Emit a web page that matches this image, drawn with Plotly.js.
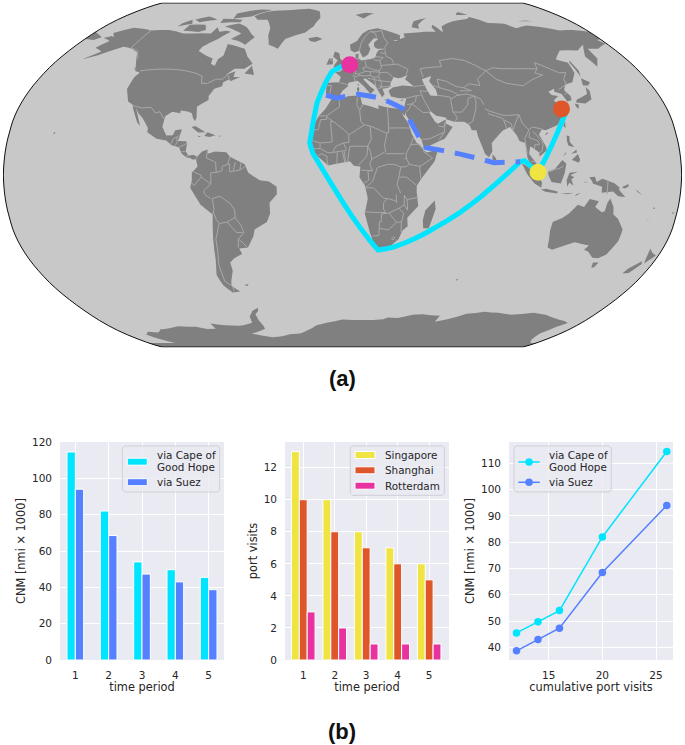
<!DOCTYPE html>
<html><head><meta charset="utf-8">
<script src="https://cdn.plot.ly/plotly-3.0.1.min.js"></script>
<style>html,body{margin:0;padding:0;background:#fff}</style></head>
<body><div id="chart" style="width:685px;height:745px"></div>
<script>
const periods = [1, 2, 3, 4, 5];
const capeCNM = [114.5, 82, 54, 49.7, 45.5];
const suezCNM = [94, 68.5, 47.3, 43, 38.7];
const singaporeVisits = [13, 10, 8, 7, 6];
const shanghaiVisits = [10, 8, 7, 6, 5];
const rotterdamVisits = [3, 2, 1, 1, 1];
const cumulativeVisits = [26, 20, 16, 14, 12];
const capeRouteLon = [4.5, -1, -6.4, -9.2, -14.3, -17.6, -15.9, 20.1, 28.6, 40.3, 51.4, 62.7, 73.8, 82.8, 94.5, 96.8, 103.8, 108.6, 116, 123, 121.5];
const capeRouteLat = [52, 51, 48.6, 44.6, 33.8, 15, 10.3, -35.2, -33.8, -29.7, -24.2, -17.9, -10.2, -3.1, 6.2, 6.7, 1.3, 8.6, 19.7, 29, 31];
const suezRouteLon = [-9.4, -3.3, 9.1, 21.4, 33.2, 41.5, 44.7, 80.5, 89.8, 94.5];
const suezRouteLat = [37.5, 36, 37.8, 36, 31.3, 17.2, 12.8, 5.8, 6, 6.2];
const portNames = ['Rotterdam', 'Shanghai', 'Singapore'];
const portLon = [4.5, 121.5, 103.8];
const portLat = [52, 31, 1.3];
const capeLabel = 'via Cape of<br>Good Hope', suezLabel = 'via Suez';

// Hand-estimated world outlines [lon, lat]
const northAmerica = [[-168,65.6],[-164,66.6],[-161.7,66.1],[-166,68.3],[-156.6,71.3],[-141,69.7],[-128,70],[-115,68],[-108,68],[-95,68],[-94,71.5],[-90,69],[-85,69.5],[-81.5,69],[-87,65],[-94,61],[-94.5,58.8],[-88,56.5],[-82.5,55],[-82,52.5],[-79,51.5],[-79,54.7],[-76.6,56.5],[-78,62.4],[-70,61],[-65,60],[-61,56],[-56,52.5],[-60,50],[-66,50],[-70,47],[-65,48.8],[-65,46],[-61,46],[-66,44],[-67,45],[-70,43.5],[-70,41.7],[-74,40.5],[-76,37],[-75.5,35.2],[-78,33.9],[-81,32],[-80,26.8],[-80.5,25.2],[-82,26.9],[-83,29],[-85.5,29.8],[-89.5,30.2],[-89.4,29],[-94,29.6],[-97.3,27.5],[-97.8,22.5],[-95,18.5],[-91.5,18.6],[-90.5,21],[-87,21.5],[-88,17],[-88.5,15.9],[-84,15.8],[-83.3,14.9],[-83.7,11],[-82,9],[-79.5,9.5],[-77.4,8.6],[-78,7.4],[-80,7.3],[-81,8],[-83,8.2],[-85.7,10],[-87.5,13],[-91.5,14],[-94.7,16.2],[-100,17],[-105.5,20],[-105.5,22],[-109.3,26.5],[-112.5,29],[-114.7,31.5],[-112,27],[-110,23],[-112,24.7],[-116,30.8],[-117.3,33],[-120.5,34.5],[-122.5,37.7],[-124.3,40.3],[-124,46],[-122.5,48],[-127,50.5],[-130.5,54.5],[-134,58],[-140,60],[-147,61],[-152,59],[-158,56.5],[-165,54.5],[-158,58.5],[-165,60.5],[-161,64]];
const greenland = [[-73,78.2],[-66,81],[-60,82],[-45,82.5],[-30,83.6],[-20,81.5],[-18,77],[-22,72],[-27,68.5],[-40,65],[-43,60],[-50,62],[-53,67],[-54,71],[-60,76],[-68,76]];
const southAmerica = [[-77.4,8.6],[-75,11],[-72,12],[-72,10],[-68,11],[-62,10.7],[-60,8.5],[-52,5],[-50,1],[-44,-2.5],[-39,-3],[-35,-5.5],[-35,-9],[-39,-13],[-39,-18],[-41,-22],[-48,-25.5],[-49,-28.6],[-53,-34],[-58,-34.5],[-57,-37],[-62,-39],[-65,-41],[-65,-45],[-68,-50],[-69,-52.3],[-65,-55],[-70,-55.5],[-74,-52],[-75.5,-47],[-73,-40],[-71.5,-30],[-70,-18.5],[-76,-14],[-81,-6],[-80,-2.5],[-80,1],[-77,4],[-78,7.4]];
const africa = [[-17,14.7],[-17,21],[-13,27.7],[-9.5,31],[-6,35.8],[-2,35],[3,36.9],[10,37.3],[11,33.2],[15,32.3],[20,30.9],[20,32.7],[25,31.6],[32,31],[34.3,31.3],[34.9,29.5],[34.2,27.8],[33,29],[32.5,30],[33.5,27.5],[36,24],[37.3,19.5],[39.5,15.5],[43.2,12],[43.3,11.5],[45,10.5],[51,11.9],[49,6.5],[42,-1.5],[39.5,-5],[39.5,-8],[40.6,-14.5],[35,-20],[35.5,-24],[32.8,-26],[31,-30],[26,-34],[20,-34.8],[18.4,-34],[15,-27],[12,-18],[13.5,-11],[12,-5],[9,-1],[9.5,4],[6,4.3],[4,6.4],[-4,5.1],[-7.5,4.4],[-13,8.5],[-16.7,12.3]];
const eurasia = [[-9,37],[-9.5,39],[-9,43.2],[-2,43.5],[-1,46],[-4.5,48.4],[-1.5,48.7],[2,51],[4,52],[7,53.6],[8.5,54],[8.3,57],[10.5,57.6],[10,55],[12,54],[18,54.8],[21,55.5],[22,57.5],[24,59.3],[29.5,60],[23,60],[21.3,61],[21.5,63],[25.2,65.2],[22,65.5],[17.5,62],[18.5,59.8],[16.5,57],[14.5,56],[13,55.5],[11,59],[8,58],[5.5,59],[5,62],[10,64],[14.5,68],[19,70],[26,71],[31,70],[41,67],[40,64.6],[35,64.5],[37,64],[44,66],[44,68],[54,68.5],[60,69],[68,69],[67,71.5],[69,73],[73,68.5],[75,72],[80,73.5],[87,75],[100,76.4],[104,77.7],[113,74],[125,73.5],[130,71],[140,72.5],[150,71.5],[160,69.7],[170,70],[180,69],[180,65],[177,64.5],[179,62.5],[170,60],[163,60],[162,55],[157,51],[155.5,56],[163,62],[155,59],[143,59],[135,54.5],[141,53],[140,48],[135,43.5],[130,42.5],[127.5,39.8],[129.5,37],[129,35],[126.3,34.5],[125,38],[121.5,39],[122,40.5],[118,39],[119,37.5],[122.5,37],[119,35],[122,31],[121,28],[117,23.5],[113,22],[110,21],[108,21.5],[106,19],[109,13],[109,11.5],[105,8.7],[105,10.5],[102,12.5],[100.5,13.5],[99.5,10],[103,5.5],[104,1.5],[101,3],[98.5,8],[98,15],[95,16],[94,18.5],[91,22.5],[87,21],[85,19.5],[80,15],[80,11],[78,8.3],[76,10],[73,18],[72.5,21],[70,21],[69,23.5],[66.5,25],[61,25],[57,26],[56.5,27],[51.5,27.8],[48.5,30],[48,29],[50.5,25],[52,24],[56.3,26],[56.5,24],[59.8,22.5],[55,17],[52,16],[45,13],[43.5,12.7],[42.5,16.5],[39,21],[35,28],[34.9,29.5],[34.2,31.3],[36,36],[32,36],[27.5,36.8],[26.5,39.5],[29,41],[35,42],[41.5,41.5],[37,45],[39,47],[35,45.7],[33,45.5],[30.5,46],[28,43],[28,41.5],[26,40.8],[23,40.5],[24,38],[22.5,36.5],[19.5,41],[19,42],[13.5,45.5],[12.3,45],[16,41.5],[18.5,40],[16,38],[12,42],[8.8,44.3],[3.5,43.3],[3,41.5],[0,39.5],[-2,36.7],[-5.5,36]];
const australia = [[114,-22],[113.5,-26],[115,-34],[118,-35],[124,-33],[129,-31.5],[134,-32.5],[137.7,-33],[136,-35],[139,-36],[143,-38.8],[146.5,-39],[150,-37.3],[153,-31],[153,-25.5],[149,-20.5],[146,-18.5],[145.3,-15],[143,-11],[141.7,-13],[141,-17],[139.5,-17.5],[135.5,-15],[137,-12.3],[132,-11.3],[129.5,-15],[126,-14],[122,-18],[119,-20]];
const islands = [
  [[-80,73.7],[-72,71.5],[-66,68],[-62,66],[-66,62],[-72,64],[-78,65],[-73,68],[-80,70],[-89,72]],
  [[-105,73],[-117,73],[-117,69.5],[-105,68.8],[-101,70]],
  [[-90,80],[-72,83],[-62,82.5],[-75,78],[-88,76.5]],
  [[-125,72],[-116,73.5],[-120,76],[-124,74]],
  [[-96,76.5],[-80,76],[-80,74.5],[-95,74]],
  [[-110,78],[-100,76],[-112,74.5],[-118,76]],
  [[-59,47.7],[-53,47],[-56,51.5]],
  [[-85,21.8],[-80,23],[-74,20],[-78,19.9],[-82,22.5]],
  [[-74.5,18.3],[-73,20],[-68.5,18.6],[-71.5,17.8]],
  [[-78.3,18.4],[-76.3,18.2],[-77,17.7]],
  [[-67.2,18.4],[-65.6,18.4],[-66,17.9]],
  [[-128,50.7],[-124,49],[-123.5,48.4],[-125.5,48.8]],
  [[-156,19],[-155,19.7],[-155.9,20.2]],
  [[-61,-51.8],[-58,-51.3],[-59,-52.3]],
  [[49.3,-12],[50,-16],[47,-25],[44,-25],[43.5,-21],[44.5,-16.5]],
  [[-5.5,50],[1.3,51.2],[1.5,52.8],[-1.5,55],[-2,57.7],[-5,58.6],[-6,56],[-3,54],[-5,52]],
  [[-10,52],[-6,52.2],[-6,55],[-8.5,55]],
  [[-24,65.5],[-18,66.3],[-14,65],[-19,63.5],[-22.5,64]],
  [[11,79],[20,80.5],[27,80],[17,76.7]],
  [[52,71.5],[56,75],[68,77],[58,73],[57,70.7]],
  [[12.5,38],[15.5,38.2],[15,36.7]],[[8.3,41],[9.7,41],[9.5,39.2],[8.5,39]],[[8.7,42.5],[9.5,43],[9.3,41.5]],
  [[23.5,35.5],[26.3,35.2],[24,35]],[[32.4,35],[34.5,35.6],[33.5,34.7]],
  [[131,34],[136,33.5],[140.5,35.5],[142,39.5],[141,41.3],[139.5,38],[136,36.7],[132,35.3]],
  [[140,42],[141.5,45.4],[145.3,43.5],[143,42]],[[130,33.5],[132,33],[131,31],[130,32]],
  [[142,46],[143.5,49],[143,54],[142,53]],[[120,23],[121.5,25.2],[121,22]],[[109,18.5],[110.5,20],[111,19.5]],
  [[80,9.7],[82,7.5],[80.5,6],[79.8,8]],
  [[95.3,5.5],[98,4.2],[104,-1],[106,-3.5],[105.7,-6],[102,-4],[98,0.5]],
  [[105.5,-6.8],[108.5,-6.5],[114.5,-7.7],[114.5,-8.7],[108,-7.8]],
  [[109,1.5],[111,1.7],[113,3],[117,7],[119,5.3],[118,1],[116,-4],[111,-3.3],[109.5,-0.5]],
  [[119.5,-5.5],[119,-2.5],[120.5,1],[125,1.5],[121,0],[123,-1],[121.5,-2],[122.7,-5],[120.5,-3.5]],
  [[120.5,16],[120.8,18.5],[122.2,18.3],[122,15.5],[124,13],[121,13.7]],
  [[122,7],[125.5,9.8],[126.5,7],[125.5,5.8],[124,6.5]],[[122,10],[125,12],[125,10.5]],[[117.3,8.5],[119.5,11],[119,9.8]],
  [[131,-1],[134,-0.8],[135,-3.3],[138,-1.7],[144.5,-3.9],[147.5,-6],[147,-6.8],[150.8,-10.3],[147,-10],[144,-7.7],[138,-8.3],[138,-5.5],[133,-4],[132.5,-2.8]],
  [[124,-10],[127,-8.4],[124.5,-9]],[[116,-8.8],[123,-8.3],[120,-9]],[[127.5,1.5],[128.5,-0.5],[128,0.5]],[[128,-3.2],[130.5,-3.3],[129,-3.5]],
  [[145,-41],[148.3,-41],[147.5,-43.3],[146,-43.5]],
  [[173,-34.5],[175.5,-36.5],[178.5,-37.7],[175,-41.5],[174,-39]],[[172.8,-40.5],[174,-41.8],[170.5,-46],[167,-46.3],[168,-44]],
  [[164,-20.2],[167,-22.3],[165,-21]],[[156,-6.7],[160,-9.5],[161,-10],[157,-8]],[[148.5,-5.7],[152,-4.2],[152,-5.5],[150,-6.3]],
  [[167,-15],[167.8,-16],[166.7,-15.8]],[[177.3,-17.5],[178.7,-17.7],[178,-18.3]],
  [[69,-49],[70.5,-49],[69.5,-49.8]],[[95,79],[105,79],[100,81]],[[138,75],[145,75.5],[150,75]],
  [[-180,65],[-173,64.5],[-170,66],[-175,67.5],[-180,68.9]]
];
const antarctica = [[-155,-85],[-163.7,-78.6],[-158,-76.9],[-151,-77.4],[-147.6,-76.6],[-145,-75.5],[-136,-74.7],[-127,-73.5],[-120,-73.8],[-114,-73.9],[-107,-75.2],[-100,-75],[-100,-72],[-90,-73],[-80,-73.2],[-76,-73],[-68,-71.5],[-67,-68],[-63,-65],[-58,-63.3],[-59,-65],[-62,-66.8],[-62,-70],[-61,-73],[-61,-75],[-75,-78],[-60,-80.5],[-53,-80],[-44,-78.5],[-35,-78],[-28,-76],[-20,-73],[-12,-71.5],[0,-69.7],[15,-69.9],[30,-69.6],[33,-68.5],[40,-68.9],[50,-67],[57,-66.8],[70,-67.6],[69,-71],[77,-69.5],[88,-66.5],[100,-65.5],[110,-66],[120,-67],[135,-66],[145,-67],[155,-69],[165,-70.5],[170,-71.7],[166,-74],[163,-78],[175,-85]];
const caspian = [[47,45],[53,46.5],[51,44],[53.8,40],[54,37],[50,37.3],[49,39],[47.5,43]];

const bordersAmericas = [
  [[-141,69.7],[-141,60.3],[-135,59],[-130,55]],[[-123,49],[-95,49],[-89,48],[-84,46.5],[-82.5,43],[-79,43],[-75,45],[-71,45],[-69,47.3],[-67,45]],
  [[-117,32.5],[-111,31.4],[-106.5,31.8],[-103,29],[-101,29.7],[-97.3,26]],[[-92,14.6],[-91,17],[-89,17.9],[-88.2,18.5]],[[-89,17.9],[-89,15.9]],[[-88.5,15.9],[-89.4,14.2],[-90,13.7]],
  [[-87.5,13],[-85,14],[-83.3,15]],[[-85.7,11],[-83.7,10.9]],[[-83,8.2],[-82.7,9.5]],[[-77.4,8.6],[-77.9,7.3]],
  [[-72,11.8],[-72.5,8],[-67.5,6],[-67,1.2]],[[-67,1.2],[-70,1],[-69.9,-4.2]],[[-78.8,1.4],[-75.3,0],[-75,-0.9],[-70,-4.2]],[[-80.3,-3.4],[-79,-5],[-75,-0.9]],
  [[-70,-4.2],[-74,-7.5],[-73,-9.5],[-70.5,-11]],[[-69.5,-11],[-69,-16],[-69.5,-17.5]],[[-70.4,-18.4],[-69.5,-17.5]],[[-69.5,-11],[-65.3,-10],[-60,-13.5],[-58,-16.3],[-58,-20]],
  [[-58,-20],[-62.5,-22]],[[-62.5,-22],[-67,-22.8]],[[-69.5,-17.5],[-68.3,-21],[-67,-22.8]],[[-67,-22.8],[-70,-30],[-70.5,-36],[-72,-42],[-72,-50],[-68.5,-52.3]],[[-68.6,-52.7],[-68.6,-55]],
  [[-62.5,-22],[-58,-27],[-54.6,-27]],[[-58,-20],[-55,-24],[-54.6,-25.5]],[[-54.6,-25.5],[-54,-27],[-57.6,-30]],[[-57.6,-30],[-53.4,-33.7]],[[-57.6,-30],[-58.4,-34]],
  [[-60,8.5],[-61,5],[-60,5.2]],[[-60,5.2],[-59.9,1.5]],[[-67,1.2],[-64,2],[-64,4],[-60.7,5.2]],[[-57,6],[-58,2]],[[-54,5.7],[-54.5,2.3]],[[-59.8,1.5],[-54.5,2.3],[-51.7,4]]
];
const bordersAfrica = [
  [[-2,35],[-1.5,32],[-8.7,27.7]],[[-13,27.7],[-8.7,27.7]],[[-8.7,27.7],[-8.7,26],[-12,26],[-13,21.3],[-17,21]],[[-8.7,27.2],[-4.9,25],[-6.5,25],[-5.5,15.5],[-12,15],[-16.5,16.2]],
  [[-4.9,25],[1.1,21],[3.3,19],[4.2,19.2]],[[4.2,19.2],[12,23.5]],[[8.5,37],[8,33],[9.5,30.2]],[[9.5,30.2],[10,25],[12,23.5]],[[11.5,33.1],[9.5,30.2]],[[12,23.5],[15,23],[24,19.5]],
  [[25,31.6],[25,20]],[[24,19.5],[24,20],[25,20]],[[25,22],[37,22]],[[3.3,19],[3.5,15.3],[0.5,15]],[[0.5,15],[2,12]],[[3.5,11.5],[4,13.5],[13.5,13.5]],[[15,23],[15.5,16.8],[13.5,13.5]],
  [[24,19.5],[22.5,14],[23,11]],[[13.5,13.5],[15,11],[15.5,7.5]],[[15.5,7.5],[19,9],[23,11]],[[13.5,13.5],[13,9],[8.5,4.6]],[[2.7,6.4],[3.6,11.7]],[[1.6,6.2],[1,11]],[[1.2,6],[0,11]],[[-3,5],[-2.8,11]],
  [[-5,10.5],[-2.8,11],[2,11.5]],[[-5.5,10.4],[-3.5,13.5],[0.5,15]],[[-12,12.4],[-8,10.5],[-5.5,10.4]],[[-12,15],[-12,12.4],[-16.7,12.3]],[[-13.3,9],[-11,10],[-8,8.5],[-8.4,7.5],[-7.5,4.4]],
  [[38.5,18],[36.5,14.3],[34,10],[34,8],[33,7.5]],[[36.5,14.3],[41,14.5],[43,12.5]],[[23,10],[33,10]],[[27.5,5],[31,3.7],[34,4],[35.5,5]],[[34,8],[35.5,5]],[[35.5,5],[41.5,4]],
  [[41.5,-1.7],[41,3.9],[48,8],[43,11]],[[39.2,-4.7],[34,-1]],[[30,-1],[34,-1]],[[31,3.7],[29.8,-1.3]],[[29.8,-1.3],[29,-4.5]],[[29,-4.5],[31,-8.5]],[[34.5,-11.5],[40.5,-10.5]],
  [[15.5,7.5],[14.5,5],[16,2]],[[16,2],[13.5,2],[14,-2.5],[11,-4]],[[9.8,2.3],[16,2]],[[18.5,3.5],[24,5],[27.5,5]],[[18.5,3.5],[16,-3],[12.2,-6]],[[12.3,-6],[16.5,-6],[22,-11],[24,-11]],
  [[24,-11],[28,-12],[29,-13],[28.5,-9]],[[24,-11],[22,-13],[22,-16],[23.3,-17.6]],[[11.8,-17.3],[23.3,-17.6]],[[25,-17.8],[21,-18.3],[21,-22],[20,-22],[20,-28.4]],[[20,-28.4],[16.5,-28.6]],
  [[20,-25],[25,-25.7],[29.3,-22.2]],[[25,-17.8],[29.3,-22.2],[32,-22],[33,-18],[30.3,-15.6],[25,-17.8]],[[30.3,-15.6],[33,-14],[35,-16.5],[34.5,-11.5]],[[33,-14],[33,-9.5],[34.5,-11.5]],[[32,-22],[32,-26.8]],
  [[28,-29],[29,-29.5],[28,-30.5],[27,-29.8],[28,-29]]
];
const bordersEurope = [
  [[-1.8,43.4],[3,42.4]],[[-8.8,42],[-6.5,42],[-7.4,37.2]],[[7.5,43.8],[7,46]],[[2.5,51],[6,49.5],[8,49],[7.6,47.6]],[[6,46.2],[7.6,47.6],[9.6,47.5],[10.4,46.8],[7,46]],
  [[14.2,54],[14.8,51],[12.2,50.3],[13.8,48.7],[9.6,47.5]],[[4,51.4],[6,51],[7,53.4]],[[8.6,54.9],[9.9,54.8]],[[10.4,46.8],[13.7,46.5]],[[13.8,48.7],[17,48.6],[16.5,46.8],[13.7,46.5]],[[14.8,51],[18.8,49.5]],
  [[17,48.6],[22.5,48.4],[22.5,49.2],[18.8,49.5]],[[16.5,46.8],[18.8,45.9],[21.5,46.2],[22.5,48.2]],[[19.5,54.4],[23.5,54],[23.9,50.5],[22.5,49.2]],[[21,56],[26,55.5]],[[24.5,58],[27.5,57.5]],
  [[28,59.5],[28,56],[31,55],[32,53],[31,52]],[[23.5,54],[26,55.5]],[[24,51.6],[31,52],[34,52.3],[40,49.7],[38.3,47.2]],[[22.5,48.2],[27,48.3],[30,46]],[[21.5,46],[22.5,44.2],[28.5,43.7]],
  [[22.5,44.2],[23,41.3],[26,41.5],[28,42]],[[18.8,45.9],[19.4,41.5]],[[21,42],[23,41.3],[20.9,40.5],[19.5,41]],[[15,45.5],[19,44.8],[22.5,44.2]],
  [[11.2,59],[12.3,62],[14.5,65],[20,69],[25,69],[29,69.7]],[[24,65.8],[23.8,68],[21,69]],[[28,60.5],[31,63],[29,66],[29,69.7]],[[-8,54.5],[-6,54.1]]
];
const bordersAsia = [
  [[48,46],[47.5,50],[61,51],[61,54],[70,55],[77,54],[87,49]],[[87,49],[92,50.5],[98,50],[107,50],[114,50],[119,50],[120,53],[127,49.8],[131,48],[135,48.3],[131,45],[130.6,42.5]],
  [[87,49],[91,45],[96,43],[105,41.8],[112,44.7],[120,47],[116,48],[119,50]],[[87,49],[80,45],[80,42]],[[52.5,42],[56,41],[56,45],[61,44],[66,41.5],[70,41],[74,42.8],[80,42]],
  [[53.8,37.4],[61,36.5],[61,35.5],[65,37.3],[71,38],[74.8,37]],[[56,41],[62,39.5],[66.5,37.4]],[[67.5,39.5],[74,39.5],[70,41]],[[61,29.5],[66,29.5],[70,33],[71,36],[74.8,37]],[[61,35.5],[61,29.5]],
  [[61.5,25],[63,27],[61,29.5]],[[48.5,30],[46,35],[44.5,39.5]],[[36,36],[42,37.2],[44.5,37.2]],[[41.5,41.5],[46,42],[48.5,41.8]],[[44.5,39.5],[48.5,39.2]],[[42,37.2],[41,34.5],[38.8,33.4]],
  [[38.8,33.4],[44.5,29.2],[48,29.5]],[[35,29.4],[37,31],[38.8,33.4],[36,33]],[[43,16.7],[47,17],[52,19],[55,20],[52,16.6]],[[55,20],[56,24.5]],[[52,23],[55,22.5],[56,25]],
  [[68,23.8],[71,25],[74,31],[75,34.5],[74.8,37]],[[79,33],[78,35.5],[74.8,37]],[[79,31],[81,30],[88,28],[92,28],[97,28.3]],[[80,28.8],[88,26.4]],[[88,26],[89,22]],[[92,21],[92,24],[88,26]],
  [[92.3,21],[94,24],[97,28.3]],[[97,28.3],[98,24],[101,21.2]],[[101,21.2],[98,17],[98.5,10]],[[101,21.2],[103,22.5],[108,21.6]],[[103,20.5],[107,16],[107.5,14.5],[106.5,11],[105,10.5]],
  [[101,20],[100.5,17.5],[105,16],[105.5,14.2]],[[102.5,12],[103,14.2],[105.5,14.2]],[[100.2,6.5],[102,6.2]],[[124.5,40],[130.6,42.5]],[[126.6,37.9],[128.4,38.5]],[[109.7,2],[115,3],[117.5,4.2]],[[141,-2.6],[141,-9.1]]
];

// ---- base map topology handed to Plotly's geo module ----
function clockwise(r) {
  let a = 0;
  r.forEach((p, i) => { const q = r[(i + 1) % r.length]; a += p[0] * q[1] - q[0] * p[1]; });
  return a > 0 ? r.slice().reverse() : r.slice();
}
const closeRing = r => r.concat([r[0]]);
const landRings = [northAmerica, greenland, southAmerica, africa, eurasia, australia].concat(islands).map(clockwise).map(closeRing).concat([closeRing(antarctica)]);
const lakeRings = [caspian].map(clockwise).map(closeRing);
const borderLines = bordersAmericas.concat(bordersAfrica, bordersEurope, bordersAsia);
const E = 179.99, P = 89.99;
const oceanRing = [[-E, -P], [-E, 0], [-E, P], [0, P], [E, P], [E, 0], [E, -P], [0, -P], [-E, -P]];
const arcs = [oceanRing].concat(landRings, lakeRings, borderLines);
let n = 1;
const polyObj = rings => ({type: 'MultiPolygon', arcs: rings.map(() => [[n++]])});
const landObj = polyObj(landRings), lakesObj = polyObj(lakeRings);
const empty = {type: 'GeometryCollection', geometries: []};
window.PlotlyGeoAssets = {topojson: {world_110m: {type: 'Topology', arcs, objects: {
  ocean: {type: 'Polygon', arcs: [[0]]}, land: landObj, lakes: lakesObj,
  countries: {type: 'MultiLineString', arcs: borderLines.map(() => [n++])},
  coastlines: empty, rivers: empty, subunits: empty
}}}};

// ---- chart ----
const W = 685, H = 745;
const CYAN = '#00e5ff', BLUE = '#5580ff', YEL = '#f0e442', ORG = '#e0562b', PNK = '#e832a0';
const TXT = '#262626', FONT = '"DejaVu Sans", sans-serif';
const dx = (a, b) => [a / W, b / W], dy = (t, b) => [1 - b / H, 1 - t / H];

function axis(domain, range, title, anchor, standoff, extra) {
  return Object.assign({
    domain, range, anchor, title: {text: title, standoff, font: {size: 11.4, color: TXT, family: FONT}},
    showgrid: true, gridcolor: '#fff', gridwidth: 1, zeroline: false, showline: false,
    ticks: '', tickfont: {size: 10.5, color: TXT, family: FONT}, automargin: false, ticklabelstandoff: 7
  }, extra || {});
}
const bar = (x, y, name, color, xa, ya, width, offset) => ({type: 'bar', x, y, name, xaxis: xa, yaxis: ya, width, offset, showlegend: false,
  marker: {color, line: {color: '#fff', width: 1}}});
const line = (x, y, name, color) => ({type: 'scatter', mode: 'lines+markers', x, y, name, xaxis: 'x3', yaxis: 'y3', showlegend: false,
  line: {color, width: 1.5}, marker: {color, size: 7.5}});

const traces = [
  {type: 'scattergeo', lon: capeRouteLon, lat: capeRouteLat, mode: 'lines', line: {color: CYAN, width: 5}, showlegend: false, hoverinfo: 'skip'},
  {type: 'scattergeo', lon: suezRouteLon, lat: suezRouteLat, mode: 'lines', line: {color: BLUE, width: 5, dash: '20px,11px'}, showlegend: false, hoverinfo: 'skip'},
  {type: 'scattergeo', lon: portLon, lat: portLat, text: portNames, mode: 'markers', marker: {size: 17, color: [PNK, ORG, YEL], line: {width: 0}}, showlegend: false},
  bar(periods, capeCNM, capeLabel, CYAN, 'x', 'y', 0.25, -0.25),
  bar(periods, suezCNM, suezLabel, BLUE, 'x', 'y', 0.25, 0),
  bar(periods, singaporeVisits, 'Singapore', YEL, 'x2', 'y2', 0.25, -0.375),
  bar(periods, shanghaiVisits, 'Shanghai', ORG, 'x2', 'y2', 0.25, -0.125),
  bar(periods, rotterdamVisits, 'Rotterdam', PNK, 'x2', 'y2', 0.25, 0.125),
  line(cumulativeVisits, capeCNM, capeLabel, CYAN),
  line(cumulativeVisits, suezCNM, suezLabel, BLUE)
];

// legends are drawn with layout shapes + annotations so their compact geometry can match
const shapes = [], annotations = [];
const px = v => v / W, py = v => 1 - v / H;
function legendBox(x0, y0, x1, y1) {
  const r = 2;
  const f = (x, y) => px(x) + ',' + py(y);
  shapes.push({type: 'path', xref: 'paper', yref: 'paper', fillcolor: 'rgba(234,234,242,0.8)', line: {color: '#cfcfd6', width: 1},
    path: 'M' + f(x0 + r, y0) + 'L' + f(x1 - r, y0) + 'L' + f(x1, y0 + r) + 'L' + f(x1, y1 - r) + 'L' + f(x1 - r, y1) + 'L' + f(x0 + r, y1) + 'L' + f(x0, y1 - r) + 'L' + f(x0, y0 + r) + 'Z'});
}
function legendText(x, y, s) {
  annotations.push({text: s, xref: 'paper', yref: 'paper', x: px(x), y: py(y), xanchor: 'left', yanchor: 'middle', showarrow: false, borderpad: 0,
    font: {size: 10.4, color: TXT, family: FONT}});
}
function swatch(x, y, color) {
  shapes.push({type: 'rect', xref: 'paper', yref: 'paper', x0: px(x), x1: px(x + 20), y0: py(y - 3.5), y1: py(y + 3.5), fillcolor: color, line: {color: '#fff', width: 1}});
}
function lineSwatch(x, y, color) {
  shapes.push({type: 'line', xref: 'paper', yref: 'paper', x0: px(x), x1: px(x + 21.5), y0: py(y), y1: py(y), line: {color, width: 1.5}});
  shapes.push({type: 'circle', xref: 'paper', yref: 'paper', x0: px(x + 7), x1: px(x + 14.5), y0: py(y - 3.75), y1: py(y + 3.75), fillcolor: color, line: {color, width: 0}});
}
const capeLines = capeLabel.split('<br>');

legendBox(122.3, 446, 219.7, 492);
swatch(127.3, 461.7, CYAN); swatch(127.3, 482.2, BLUE);
legendText(156, 455.3, capeLines[0]); legendText(156, 467, capeLines[1]); legendText(156, 482.3, suezLabel);

legendBox(350.3, 446, 444.3, 495.3);
[['Singapore', YEL, 455], ['Shanghai', ORG, 470.3], ['Rotterdam', PNK, 485.7]].forEach(r => {
  swatch(355, r[2], r[1]); legendText(384, r[2], r[0]);
});

legendBox(514, 446, 611.3, 492);
lineSwatch(518.3, 462, CYAN); lineSwatch(518.3, 482.3, BLUE);
legendText(547.7, 455.3, capeLines[0]); legendText(547.7, 467, capeLines[1]); legendText(547.7, 482.3, suezLabel);

[['<b>(a)</b>', 378], ['<b>(b)</b>', 731]].forEach(r => annotations.push({text: r[0], xref: 'paper', yref: 'paper', x: 342 / W, y: py(r[1]), xanchor: 'center', yanchor: 'middle', showarrow: false,
  font: {family: '"Liberation Sans", Arial, sans-serif', size: 22, color: '#111'}}));

const layout = {
  width: W, height: H, margin: {l: 0, r: 0, t: 0, b: 0}, paper_bgcolor: '#fff', plot_bgcolor: '#eaeaf2',
  font: {family: FONT, color: TXT}, showlegend: false, shapes, annotations,
  geo: {
    domain: {x: dx(3, 682), y: dy(3, 347)}, projection: {type: 'robinson'}, resolution: 110,
    bgcolor: 'rgba(0,0,0,0)', showocean: true, oceancolor: '#c8c8c8', showland: true, landcolor: '#808080',
    showcountries: true, countrycolor: '#a8a8a8', countrywidth: 1, showcoastlines: false,
    showlakes: true, lakecolor: '#c8c8c8', showframe: true, framecolor: '#111', framewidth: 1
  },
  xaxis: axis(dx(60, 224), [0.54, 5.46], 'time period', 'y', 1, {tickvals: periods}),
  yaxis: axis(dy(442, 660), [0, 120], 'CNM [nmi × 1000]', 'x', 3.5, {tickvals: [0, 20, 40, 60, 80, 100, 120]}),
  xaxis2: axis(dx(285, 449), [0.42, 5.63], 'time period', 'y2', 1, {tickvals: periods}),
  yaxis2: axis(dy(442, 660), [0, 13.6], 'port visits', 'x2', 3.5, {tickvals: [0, 2, 4, 6, 8, 10, 12]}),
  xaxis3: axis(dx(509, 673), [11.3, 26.58], 'cumulative port visits', 'y3', 1, {tickvals: [15, 20, 25]}),
  yaxis3: axis(dy(442, 660), [35.2, 118.1], 'CNM [nmi × 1000]', 'x3', 3.5, {tickvals: [40, 50, 60, 70, 80, 90, 100, 110]})
};

Plotly.newPlot('chart', traces, layout, {displayModeBar: false, staticPlot: true});
</script></body></html>
